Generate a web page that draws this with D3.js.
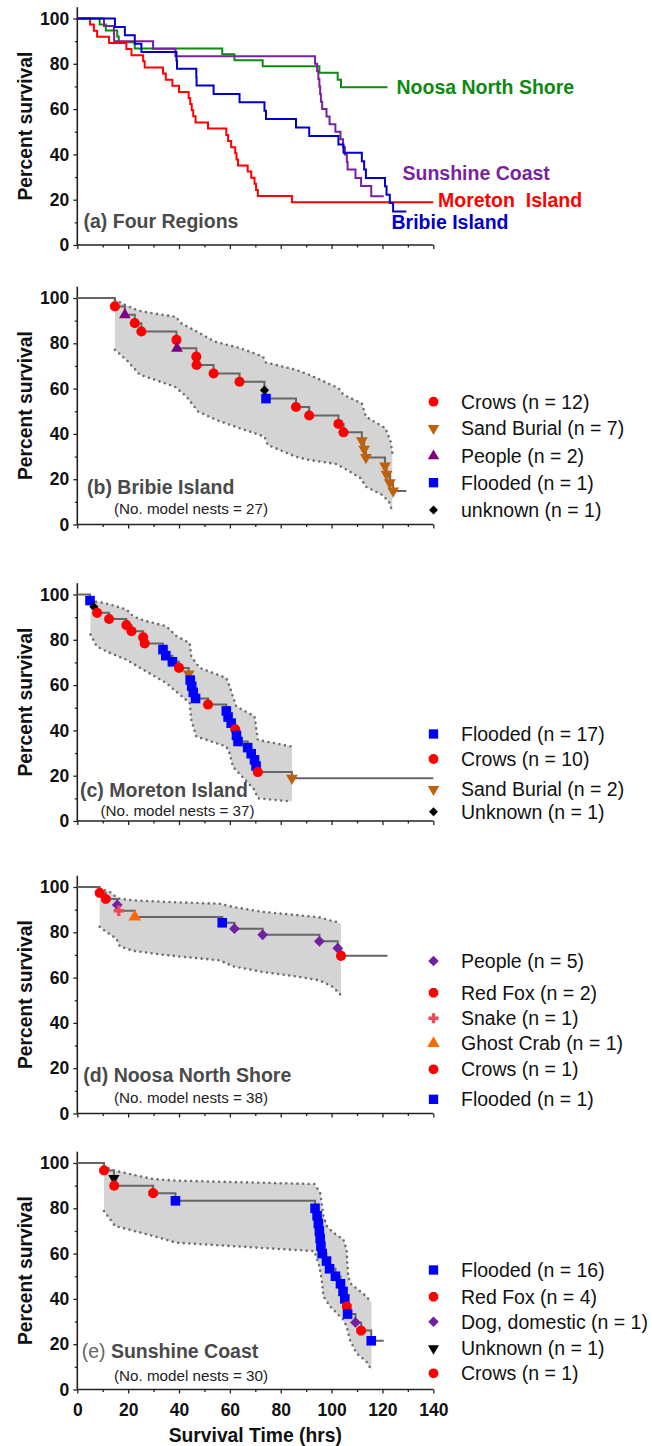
<!DOCTYPE html>
<html><head><meta charset="utf-8">
<script src="https://cdn.jsdelivr.net/npm/d3@7"></script>
<style>
body{margin:0;background:#fff}
svg{display:block}
text{font-family:"Liberation Sans",Arial,Helvetica,sans-serif}
</style>
</head><body>
<svg id="chart" width="652" height="1446"></svg>
<script>
// ---------------- DATA ----------------
const timeTicks = [0,20,40,60,80,100,120,140];
const timeMinorTicks = [10,30,50,70,90,110,130];
const percentTicks = [0,20,40,60,80,100];
const percentMinorTicks = [10,30,50,70,90];

// Bribie Island (27 nests)
const bribieTimes  = [14.8,18.7,22.6,25.2,39.0,39.2,46.8,46.9,53.6,63.8,73.6,74.2,86.0,91.2,102.7,104.7,111.9,112.8,113.5,121.0,121.6,122.9,124.2];
const bribieLevels = [96.3,92.6,88.9,85.2,81.5,77.8,74.1,70.4,66.7,63.0,59.3,55.6,51.9,48.1,44.4,40.7,37.0,33.3,29.6,25.9,22.2,18.5,14.8];
const bribieCauses = ["crow","peopleTri","crow","crow","crow","peopleTri","crow","crow","crow","crow","unkDia","flood","crow","crow","crow","crow","sand","sand","sand","sand","sand","sand","sand"];
const bribieEnd = 129.4;
const bribieUpperT = [14.8,18.7,22.6,25.2,39.0,40.3,46.8,54.0,63.8,73.0,74.2,86.0,91.2,102.7,104.7,111.9,113.5,121.2,123.2,123.9];
const bribieUpperV = [99.3,97.0,95.1,94.1,91.6,89.2,85.3,80.8,77.9,74.2,71.5,68.3,66.1,60.2,57.2,53.5,47.6,42.5,36.6,31.4];
const bribieLowerT = [14.8,19.3,24.6,38.3,42.9,47.5,54.6,63.8,73.6,74.9,86.0,91.2,101.7,105.0,111.5,113.5,120.0,122.6,123.9];
const bribieLowerV = [77.1,72.7,66.1,60.9,56.5,49.9,46.2,42.5,38.8,35.1,29.9,28.5,26.7,24.8,20.4,16.7,13.0,10.0,5.6];

// Moreton Island (37 nests)
const moretonTimes  = [5.0,6.5,7.8,12.5,19.3,21.3,25.9,26.5,33.7,34.8,37.4,40.0,43.8,44.4,45.0,45.6,46.5,51.4,58.6,59.3,60.5,62.1,62.6,63.2,67.0,68.4,69.7,70.3,71.0,84.4];
const moretonLevels = [97.3,94.6,91.9,89.2,86.5,83.8,81.1,78.4,75.7,73.0,70.3,67.6,64.9,62.2,59.5,56.8,54.1,51.4,48.6,45.9,43.2,40.5,37.8,35.1,32.4,29.7,27.0,24.3,21.6,18.9];
const moretonCauses = ["flood","unkDia","crow","crow","crow","crow","crow","crow","flood","flood","flood","crow","sand","flood","flood","flood","flood","crow","flood","flood","flood","crow","flood","flood","flood","flood","flood","flood","crow","sand"];
const moretonEnd = 140;
const moretonUpperT = [5.2,8.9,12.8,19.3,22.0,25.9,35.0,39.0,44.2,44.8,48.1,58.6,59.9,62.5,69.7,70.3,71.0,74.2,84.4];
const moretonUpperV = [97.0,96.6,95.6,93.4,90.4,88.6,86.0,81.6,78.6,72.7,67.6,63.1,59.4,50.6,46.2,41.7,35.8,35.1,32.9];
const moretonLowerT = [5.2,7.6,12.8,19.3,25.9,35.0,40.3,44.2,44.8,46.8,58.6,59.9,61.2,69.7,71.0,84.4];
const moretonLowerV = [82.3,77.1,74.2,71.2,66.8,60.9,55.8,52.1,44.7,37.3,32.9,29.9,24.0,13.7,10.0,8.6];

// Noosa North Shore (38 nests)
const noosaTimes  = [8.8,11.2,15.7,16.3,22.6,57.0,61.8,72.9,95.2,102.4,103.7];
const noosaLevels = [97.4,94.7,92.1,89.5,86.8,84.2,81.6,78.9,76.0,73.0,69.6];
const noosaCauses = ["fox","fox","peopleDia","snake","crab","flood","peopleDia","peopleDia","peopleDia","peopleDia","crow"];
const noosaEnd = 122.0;
const noosaUpperT = [8.8,12.8,16.1,22.0,35.0,56.0,61.2,72.9,87.3,95.2,99.2,101.8,103.7];
const noosaUpperV = [99.3,97.8,94.9,94.1,93.4,92.6,91.2,89.0,87.5,86.6,85.3,84.6,83.8];
const noosaLowerT = [8.8,11.5,15.4,16.7,22.0,35.0,56.0,61.2,72.9,87.3,95.2,100.5,103.7];
const noosaLowerV = [82.4,80.1,77.2,73.8,71.8,69.9,67.6,65.0,62.5,60.3,58.8,55.9,52.2];

// Sunshine Coast (30 nests)
const sunshineTimes  = [10.5,14.4,14.5,29.8,38.6,93.5,94.3,94.8,95.2,95.5,95.8,96.3,98.0,99.2,101.5,103.5,104.5,105.2,106.0,106.3,109.4,111.6,115.6];
const sunshineLevels = [96.7,93.3,90.0,86.7,83.3,80.0,76.7,73.3,70.0,66.7,63.3,60.0,56.7,53.3,50.0,46.7,43.3,40.0,36.7,33.3,29.6,26.0,21.5];
const sunshineCauses = ["fox","unkTri","crow","fox","flood","flood","flood","flood","flood","flood","flood","flood","flood","flood","flood","flood","flood","flood","fox","flood","dog","fox","flood"];
const sunshineEnd = 120.5;
const sunshineUpperT = [10.5,12.8,14.8,29.8,39.0,93.2,95.5,96.8,98.1,100.7,104.6,105.9,106.4,107.2,113.7,115.7];
const sunshineUpperV = [99.1,97.3,96.6,92.9,92.2,90.7,87.0,76.6,72.2,69.2,66.3,61.8,51.5,47.0,41.1,38.2];
const sunshineLowerT = [10.5,14.8,29.8,39.0,93.2,95.2,96.1,96.8,99.4,104.6,105.9,107.2,109.8,113.7,115.7];
const sunshineLowerV = [78.8,72.2,67.8,64.8,61.1,54.4,48.5,41.1,36.7,30.8,27.8,21.9,16.0,12.3,8.6];

// Panel (a) series names
const regionNames = ["Noosa North Shore","Sunshine Coast","Moreton  Island","Bribie Island"];

// Legends
const bribieLegendKeys = ["crow","sand","peopleTri","flood","unkDia"];
const bribieLegendLabels = ["Crows (n = 12)","Sand Burial (n = 7)","People (n = 2)","Flooded (n = 1)","unknown (n = 1)"];
const moretonLegendKeys = ["flood","crow","sand","unkDia"];
const moretonLegendLabels = ["Flooded (n = 17)","Crows (n = 10)","Sand Burial (n = 2)","Unknown (n = 1)"];
const noosaLegendKeys = ["peopleDia","fox","snake","crab","crow","flood"];
const noosaLegendLabels = ["People (n = 5)","Red Fox (n = 2)","Snake (n = 1)","Ghost Crab (n = 1)","Crows (n = 1)","Flooded (n = 1)"];
const sunshineLegendKeys = ["flood","fox","dog","unkTri","crow"];
const sunshineLegendLabels = ["Flooded (n = 16)","Red Fox (n = 4)","Dog, domestic (n = 1)","Unknown (n = 1)","Crows (n = 1)"];

// ---------------- STYLE / LAYOUT ----------------
const FONT = '"Liberation Sans",Arial,Helvetica,sans-serif';
const svg = d3.select("#chart");
const x = d3.scaleLinear().domain([0,140]).range([77.3,433.3]);
const UNIT_H = 226.5;

const triUp = {draw(c,s){const a=Math.sqrt(s*4/Math.sqrt(3)),h=a*Math.sqrt(3)/2;c.moveTo(0,-2*h/3);c.lineTo(a/2,h/3);c.lineTo(-a/2,h/3);c.closePath();}};
const triDown = {draw(c,s){const a=Math.sqrt(s*4/Math.sqrt(3)),h=a*Math.sqrt(3)/2;c.moveTo(0,2*h/3);c.lineTo(a/2,-h/3);c.lineTo(-a/2,-h/3);c.closePath();}};
const diamond = {draw(c,s){const r=Math.sqrt(s/2);c.moveTo(0,-r);c.lineTo(r,0);c.lineTo(0,r);c.lineTo(-r,0);c.closePath();}};
const octagon = {draw(c,s){const r=Math.sqrt(s/(2*Math.SQRT2));for(let i=0;i<8;i++){const a=Math.PI/8+i*Math.PI/4;const px=r*Math.cos(a),py=r*Math.sin(a);if(i===0)c.moveTo(px,py);else c.lineTo(px,py);}c.closePath();}};
const cross = {draw(c,s){const r=Math.sqrt(s/5)/2*1.0;const w=r, L=r*3;c.moveTo(-w,-L);c.lineTo(w,-L);c.lineTo(w,-w);c.lineTo(L,-w);c.lineTo(L,w);c.lineTo(w,w);c.lineTo(w,L);c.lineTo(-w,L);c.lineTo(-w,w);c.lineTo(-L,w);c.lineTo(-L,-w);c.lineTo(-w,-w);c.closePath();}};

const markerStyle = {
  crow:      {type:d3.symbolCircle, size:80, color:"#ff0000"},
  sand:      {type:triDown, size:60, color:"#c0600a"},
  peopleTri: {type:triUp, size:60, color:"#800080"},
  flood:     {type:d3.symbolSquare, size:92, color:"#0000ff"},
  unkDia:    {type:diamond, size:42, color:"#000000"},
  unkTri:    {type:triDown, size:55, color:"#000000"},
  fox:       {type:octagon, size:78, color:"#ff0000"},
  peopleDia: {type:diamond, size:58, color:"#7020a0"},
  dog:       {type:diamond, size:58, color:"#7020a0"},
  snake:     {type:cross, size:60, color:"#f04a55"},
  crab:      {type:triUp, size:70, color:"#ff6a00"}
};

function yScale(y0){ return d3.scaleLinear().domain([0,100]).range([y0, y0-UNIT_H]); }

function drawAxes(g, y, showXLabels){
  const y0 = y(0);
  // y axis
  const ya = g.append("g").attr("transform",`translate(${x(0)},0)`)
    .call(d3.axisLeft(y).tickValues(percentTicks).tickSize(4).tickPadding(4));
  ya.select(".domain").remove();
  ya.selectAll("text").attr("font-family",FONT).attr("font-weight","bold").attr("font-size","17.5px").attr("fill","#111");
  ya.selectAll("line").attr("stroke","#222").attr("stroke-width",1.3);
  const yb = g.append("g").attr("transform",`translate(${x(0)},0)`)
    .call(d3.axisLeft(y).tickValues(percentMinorTicks).tickSize(2.5).tickFormat(""));
  yb.select(".domain").remove();
  yb.selectAll("line").attr("stroke","#222").attr("stroke-width",1.3);
  g.append("line").attr("x1",x(0)).attr("x2",x(0)).attr("y1",y(0)).attr("y2",y(105))
    .attr("stroke","#222").attr("stroke-width",1.6);
  // x axis
  const xa = g.append("g").attr("transform",`translate(0,${y0})`)
    .call(d3.axisBottom(x).tickValues(timeTicks).tickSize(4).tickPadding(10.5).tickFormat(showXLabels? d3.format("d") : ""));
  xa.select(".domain").remove();
  xa.selectAll("text").attr("font-family",FONT).attr("font-weight","bold").attr("font-size","17.5px").attr("fill","#111");
  xa.selectAll("line").attr("stroke","#222").attr("stroke-width",1.3);
  const xb = g.append("g").attr("transform",`translate(0,${y0})`)
    .call(d3.axisBottom(x).tickValues(timeMinorTicks).tickSize(2.5).tickFormat(""));
  xb.select(".domain").remove();
  xb.selectAll("line").attr("stroke","#222").attr("stroke-width",1.3);
  g.append("line").attr("x1",x(0)).attr("x2",x(140)).attr("y1",y0).attr("y2",y0)
    .attr("stroke","#222").attr("stroke-width",1.6);
  // y title
  g.append("text").attr("transform",`translate(25,${y(52.5)}) rotate(-90)`)
    .attr("text-anchor","middle").attr("dy","0.35em")
    .attr("font-family",FONT).attr("font-weight","bold").attr("font-size","19.3px").attr("fill","#111")
    .text("Percent survival");
}

function stepPoints(times, levels, end){
  const pts = [[0,100]];
  times.forEach((t,i)=>pts.push([t, levels[i]]));
  pts.push([end, levels[levels.length-1]]);
  return pts;
}

// ---------------- PANEL A ----------------
const regions = [
  {times:noosaTimes, levels:noosaLevels, end:noosaEnd, color:"#0d8a12"},
  {times:sunshineTimes, levels:sunshineLevels, end:sunshineEnd, color:"#7a1fa2"},
  {times:moretonTimes, levels:moretonLevels, end:moretonEnd, color:"#ff0000"},
  {times:bribieTimes, levels:bribieLevels, end:bribieEnd, color:"#0000c8"}
];
const regionLabelPos = [[396.5,87,"#0d8a12"],[402.5,173,"#7a1fa2"],[438,200,"#ff0000"],[391.5,222,"#0000c8"]];
{
  const y = yScale(245);
  const g = svg.append("g");
  drawAxes(g, y, false);
  const line = d3.line().x(d=>x(d[0])).y(d=>y(d[1])).curve(d3.curveStepAfter);
  regions.forEach(r=>{
    g.append("path").attr("d", line(stepPoints(r.times,r.levels,r.end)))
      .attr("fill","none").attr("stroke",r.color).attr("stroke-width",2);
  });
  regionNames.forEach((n,i)=>{
    g.append("text").attr("x",regionLabelPos[i][0]).attr("y",regionLabelPos[i][1]).attr("dy","0.35em")
      .attr("font-family",FONT).attr("font-weight","bold").attr("font-size","19.5px").attr("fill",regionLabelPos[i][2])
      .attr("xml:space","preserve").style("white-space","pre").text(n);
  });
  g.append("text").attr("x",83.5).attr("y",221).attr("dy","0.35em")
    .attr("font-family",FONT).attr("font-weight","bold").attr("font-size","19.5px").attr("fill","#4a4a4a")
    .text("(a) Four Regions");
}

// ---------------- PANELS B-E ----------------
const panelDefs = [
  {y0:524.5, prefix:"(b) ", name:"Bribie Island", nests:"(No. model nests = 27)", labX:87, labY:486.7, nestX:114, nestY:508.3,
   times:bribieTimes, levels:bribieLevels, causes:bribieCauses, end:bribieEnd,
   uT:bribieUpperT, uV:bribieUpperV, lT:bribieLowerT, lV:bribieLowerV,
   legKeys:bribieLegendKeys, legLabels:bribieLegendLabels, legY:[401.7,428.3,456,482.7,510]},
  {y0:821, prefix:"(c) ", name:"Moreton Island", nests:"(No. model nests = 37)", labX:80, labY:790, nestX:100.5, nestY:810.7,
   times:moretonTimes, levels:moretonLevels, causes:moretonCauses, end:moretonEnd,
   uT:moretonUpperT, uV:moretonUpperV, lT:moretonLowerT, lV:moretonLowerV,
   legKeys:moretonLegendKeys, legLabels:moretonLegendLabels, legY:[734,759,789.3,811.7]},
  {y0:1113.5, prefix:"(d) ", name:"Noosa North Shore", nests:"(No. model nests = 38)", labX:83.3, labY:1075, nestX:114, nestY:1097.3,
   times:noosaTimes, levels:noosaLevels, causes:noosaCauses, end:noosaEnd,
   uT:noosaUpperT, uV:noosaUpperV, lT:noosaLowerT, lV:noosaLowerV,
   legKeys:noosaLegendKeys, legLabels:noosaLegendLabels, legY:[961,992.7,1018.3,1043.3,1069.3,1099.3]},
  {y0:1389.5, prefix:"(e) ", name:"Sunshine Coast", nests:"(No. model nests = 30)", labX:81.7, labY:1350.7, nestX:114, nestY:1376,
   times:sunshineTimes, levels:sunshineLevels, causes:sunshineCauses, end:sunshineEnd,
   uT:sunshineUpperT, uV:sunshineUpperV, lT:sunshineLowerT, lV:sunshineLowerV,
   legKeys:sunshineLegendKeys, legLabels:sunshineLegendLabels, legY:[1270,1296.7,1321.7,1348.3,1373.3], lightPrefix:true}
];

panelDefs.forEach((p,pi)=>{
  const y = yScale(p.y0);
  const g = svg.append("g");
  const upper = p.uT.map((t,i)=>[t,p.uV[i]]);
  const lower = p.lT.map((t,i)=>[t,p.lV[i]]);
  const lin = d3.line().x(d=>x(d[0])).y(d=>y(d[1]));
  // band fill
  g.append("path").attr("d", lin(upper.concat(lower.slice().reverse()))+"Z")
    .attr("fill","#d4d4d4").attr("stroke","none");
  // dotted bounds
  [upper, lower].forEach(b=>{
    g.append("path").attr("d", lin(b)).attr("fill","none").attr("stroke","#6e6e6e")
      .attr("stroke-width",2.6).attr("stroke-linecap","round").attr("stroke-dasharray","0,5.6");
  });
  drawAxes(g, y, pi===3);
  // step line
  const step = d3.line().x(d=>x(d[0])).y(d=>y(d[1])).curve(d3.curveStepAfter);
  g.append("path").attr("d", step(stepPoints(p.times,p.levels,p.end)))
    .attr("fill","none").attr("stroke","#666").attr("stroke-width",2);
  // markers
  g.selectAll("path.mk").data(p.times.map((t,i)=>({t, v:p.levels[i], c:p.causes[i]}))).enter()
    .append("path").attr("class","mk")
    .attr("transform",d=>`translate(${x(d.t)},${y(d.v)})`)
    .attr("d",d=>d3.symbol().type(markerStyle[d.c].type).size(markerStyle[d.c].size)())
    .attr("fill",d=>markerStyle[d.c].color);
  // panel label
  const lt = g.append("text").attr("x",p.labX).attr("y",p.labY).attr("dy","0.35em")
    .attr("font-family",FONT).attr("font-size","19.5px").attr("fill","#4a4a4a");
  lt.append("tspan").attr("font-weight",p.lightPrefix?"normal":"bold").attr("fill",p.lightPrefix?"#666":"#4a4a4a").text(p.prefix);
  lt.append("tspan").attr("font-weight","bold").text(p.name);
  g.append("text").attr("x",p.nestX).attr("y",p.nestY).attr("dy","0.35em")
    .attr("font-family",FONT).attr("font-size","15.2px").attr("fill","#222").text(p.nests);
  // legend
  p.legKeys.forEach((k,i)=>{
    const s = markerStyle[k];
    g.append("path").attr("transform",`translate(433.5,${p.legY[i]})`)
      .attr("d", d3.symbol().type(s.type).size(s.size*0.95)()).attr("fill",s.color);
    g.append("text").attr("x",461).attr("y",p.legY[i]).attr("dy","0.35em")
      .attr("font-family",FONT).attr("font-size","19.5px").attr("fill","#111").text(p.legLabels[i]);
  });
});

// x title
svg.append("text").attr("x",(x(0)+x(140))/2).attr("y",1435).attr("dy","0.35em").attr("text-anchor","middle")
  .attr("font-family",FONT).attr("font-weight","bold").attr("font-size","19.3px").attr("fill","#111")
  .text("Survival Time (hrs)");
</script>
</body></html>
